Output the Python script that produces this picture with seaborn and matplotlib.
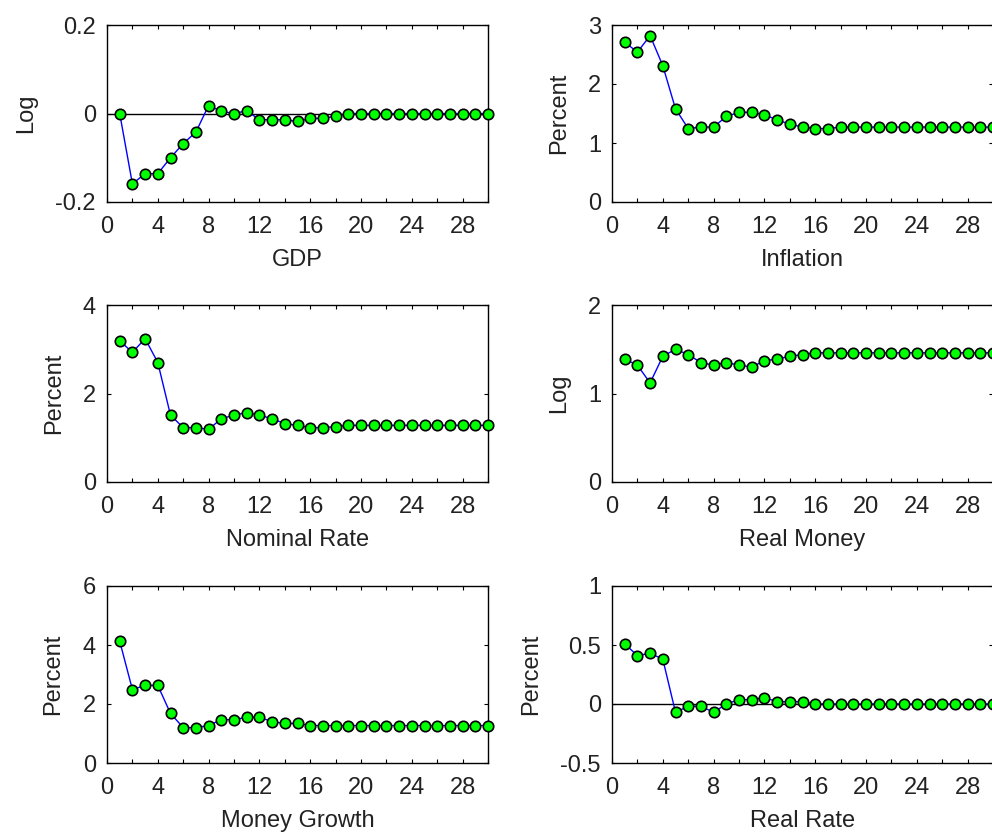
import numpy as np
import pandas as pd
import seaborn as sns
import matplotlib
matplotlib.use("Agg")
import matplotlib.pyplot as plt

# Impulse responses over 30 periods
periods = list(range(1, 31))

gdp = [0.0, -0.159, -0.136, -0.136, -0.100, -0.068, -0.042, 0.018, 0.005, 0.0,
       0.006, -0.014, -0.014, -0.014, -0.018, -0.011, -0.011, -0.006, 0.0, 0.0,
       0.0, 0.0, 0.0, 0.0, 0.0, 0.0, 0.0, 0.0, 0.0, 0.0]

inflation = [2.71, 2.54, 2.82, 2.31, 1.58, 1.245, 1.27, 1.27, 1.45, 1.52,
             1.52, 1.48, 1.39, 1.32, 1.27, 1.245, 1.245, 1.27, 1.27, 1.27,
             1.27, 1.27, 1.27, 1.27, 1.27, 1.27, 1.27, 1.27, 1.27, 1.27]

nominal_rate = [3.19, 2.93, 3.24, 2.70, 1.51, 1.23, 1.23, 1.19, 1.43, 1.51,
                1.57, 1.51, 1.43, 1.32, 1.28, 1.23, 1.23, 1.25, 1.28, 1.28,
                1.28, 1.28, 1.28, 1.28, 1.28, 1.28, 1.28, 1.28, 1.28, 1.28]

real_money = [1.39, 1.32, 1.12, 1.42, 1.50, 1.44, 1.35, 1.32, 1.35, 1.32,
              1.30, 1.37, 1.39, 1.42, 1.44, 1.46, 1.46, 1.46, 1.46, 1.46,
              1.46, 1.46, 1.46, 1.46, 1.46, 1.46, 1.46, 1.46, 1.46, 1.46]

money_growth = [4.13, 2.49, 2.63, 2.63, 1.68, 1.20, 1.20, 1.27, 1.47, 1.47,
                1.55, 1.55, 1.40, 1.34, 1.34, 1.27, 1.27, 1.27, 1.27, 1.27,
                1.27, 1.27, 1.27, 1.27, 1.27, 1.27, 1.27, 1.27, 1.27, 1.27]

real_rate = [0.51, 0.41, 0.43, 0.38, -0.07, -0.02, -0.02, -0.07, 0.0, 0.037,
             0.037, 0.054, 0.02, 0.02, 0.02, 0.0, 0.0, 0.0, 0.0, 0.0,
             0.0, 0.0, 0.0, 0.0, 0.0, 0.0, 0.0, 0.0, 0.0, 0.0]

titles = ["GDP", "Inflation", "Nominal Rate", "Real Money", "Money Growth", "Real Rate"]
units = ["Log", "Percent", "Percent", "Log", "Percent", "Percent"]
series = [gdp, inflation, nominal_rate, real_money, money_growth, real_rate]
yticks = [[-0.2, 0, 0.2], [0, 1, 2, 3], [0, 2, 4], [0, 1, 2], [0, 2, 4, 6], [-0.5, 0, 0.5, 1]]
ytick_labels = [["-0.2", "0", "0.2"], ["0", "1", "2", "3"], ["0", "2", "4"],
                ["0", "1", "2"], ["0", "2", "4", "6"], ["-0.5", "0", "0.5", "1"]]
zero_line = [True, False, False, False, False, True]

sns.set_style("white")
plt.rcParams["font.family"] = ["Liberation Sans", "DejaVu Sans"]
plt.rcParams["axes.unicode_minus"] = False

W, H = 992, 832
fig = plt.figure(figsize=(W / 100, H / 100), dpi=100)
fig.patch.set_facecolor("white")

col_left = [107, 612]
row_top = [25, 305, 586]
ax_w, ax_h = 381, 177

xticks = list(range(0, 31, 2))
xtick_labels = [str(t) if t % 4 == 0 and t < 30 else "" for t in xticks]

for i, (name, unit, vals) in enumerate(zip(titles, units, series)):
    r, c = divmod(i, 2)
    x0 = col_left[c]
    y0 = H - (row_top[r] + ax_h)
    ax = fig.add_axes([x0 / W, y0 / H, ax_w / W, ax_h / H])
    df = pd.DataFrame({"period": periods, "value": vals})

    if zero_line[i]:
        ax.plot([0, 30], [0, 0], color="black", lw=1.0, zorder=1)

    sns.lineplot(data=df, x="period", y="value", ax=ax, color="blue", lw=1.0,
                 marker="o", markersize=7.5, markerfacecolor="#00ff00",
                 markeredgecolor="black", markeredgewidth=1.2, clip_on=False,
                 zorder=3)

    ax.set_xlim(0, 30)
    ax.set_ylim(yticks[i][0], yticks[i][-1])
    ax.set_xticks(xticks)
    ax.set_xticklabels(xtick_labels)
    ax.set_yticks(yticks[i])
    ax.set_yticklabels(ytick_labels[i])
    ax.tick_params(direction="in", length=3, width=0.8, color="black",
                   top=True, right=True, bottom=True, left=True,
                   labelsize=17, labelcolor="#222222")
    ax.tick_params(axis="x", pad=10)
    ax.tick_params(axis="y", pad=8)
    for s in ax.spines.values():
        s.set_color("black")
        s.set_linewidth(1.0)
        s.set_visible(True)
    ax.set_xlabel(name, fontsize=17, color="#222222", labelpad=8)
    ax.set_ylabel(unit, fontsize=17, color="#222222", labelpad=13)
    ax.set_facecolor("white")

fig.savefig("out.png", dpi=100, facecolor="white")
